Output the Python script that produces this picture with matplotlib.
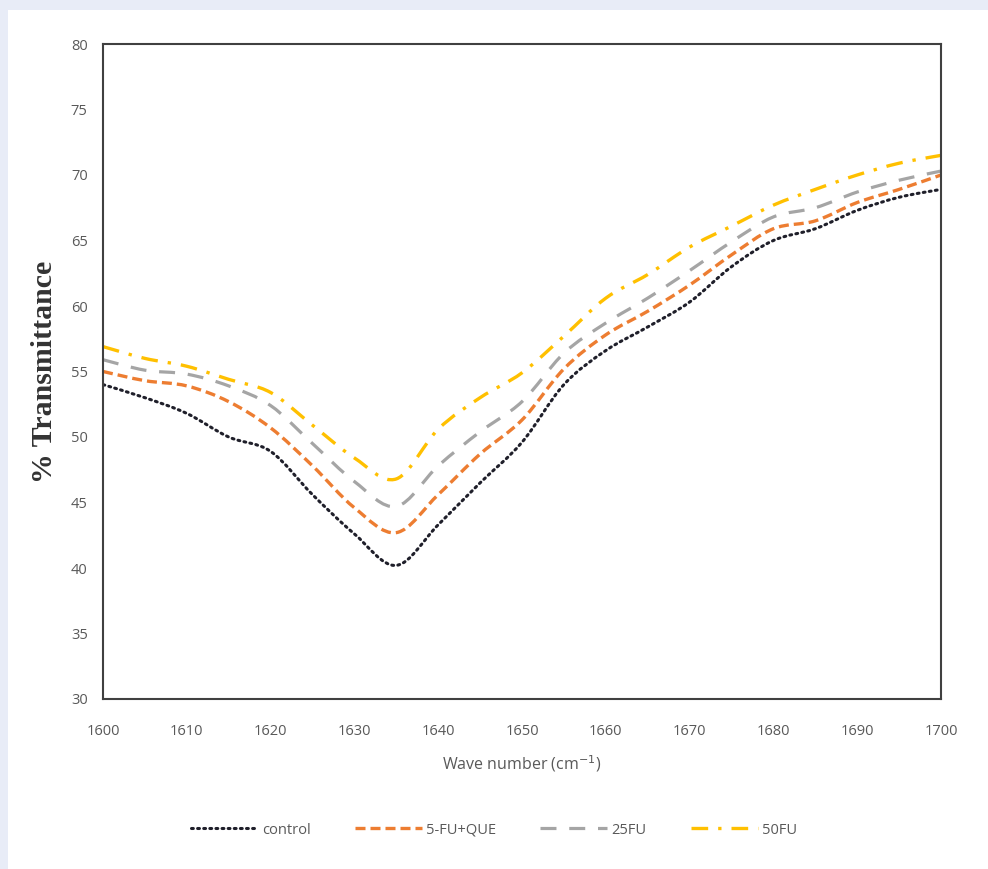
import matplotlib
matplotlib.use('Agg')
import matplotlib.pyplot as plt
import numpy as np
from matplotlib.patches import Rectangle, PathPatch
from matplotlib.path import Path
from matplotlib.lines import Line2D

# Données (pas de 5 cm-1)
wave = [1600, 1605, 1610, 1615, 1620, 1625, 1630, 1635, 1640, 1645, 1650,
        1655, 1660, 1665, 1670, 1675, 1680, 1685, 1690, 1695, 1700]
control = [54.0, 53.0, 51.8, 50.0, 48.9, 45.6, 42.6, 40.2, 43.3, 46.5, 49.6,
           54.0, 56.6, 58.4, 60.3, 63.0, 65.0, 65.9, 67.3, 68.3, 68.9]
fu_que = [55.0, 54.3, 53.9, 52.7, 50.7, 47.8, 44.6, 42.7, 45.6, 48.7, 51.3,
          55.2, 57.8, 59.6, 61.6, 63.9, 65.9, 66.5, 67.9, 68.9, 70.0]
fu25 = [55.9, 55.1, 54.8, 53.9, 52.4, 49.5, 46.6, 44.7, 47.8, 50.4, 52.7,
        56.4, 58.7, 60.6, 62.7, 64.9, 66.8, 67.5, 68.7, 69.6, 70.3]
fu50 = [56.9, 56.0, 55.4, 54.4, 53.4, 50.9, 48.4, 46.8, 50.6, 53.0, 54.9,
        57.7, 60.6, 62.4, 64.5, 66.1, 67.7, 68.9, 70.0, 70.9, 71.5]

labels = ['control', '5-FU+QUE', '25FU', '50FU']
colors = ['#1f1f2a', '#ED7D31', '#A5A5A5', '#FFC000']
styles = [(0, (0.6, 1.4)), (0, (3, 1.5)), (0, (5, 4)), (0, (5, 3, 1, 3))]
widths = [2.2, 2.4, 2.3, 2.4]


def smooth_path(x, y):
    # courbe lissée façon Excel : segments de Bézier passant par les points
    p = np.column_stack([x, y]).astype(float)
    pad = np.vstack([p[0], p, p[-1]])
    verts, codes = [p[0]], [Path.MOVETO]
    for i in range(len(p) - 1):
        c1 = p[i] + (pad[i + 2] - pad[i]) / 6
        c2 = p[i + 1] - (pad[i + 3] - pad[i + 1]) / 6
        verts += [c1, c2, p[i + 1]]
        codes += [Path.CURVE4] * 3
    return Path(verts, codes)


fig = plt.figure(figsize=(9.88, 8.69), dpi=100, facecolor='#e8ecf7')
fig.add_artist(Rectangle((8 / 988, 0), 1, 859 / 869, transform=fig.transFigure,
                         facecolor='white', edgecolor='none', zorder=-10))

ax = fig.add_axes([103 / 988, 170 / 869, 838 / 988, 655 / 869])
handles = []
for ys, c, ls, lw, lab in zip([control, fu_que, fu25, fu50], colors, styles, widths, labels):
    cap = 'round' if lab == 'control' else 'butt'
    ax.add_patch(PathPatch(smooth_path(wave, ys), fill=False, edgecolor=c,
                           linestyle=ls, lw=lw, capstyle=cap))
    handles.append(Line2D([], [], color=c, linestyle=ls, lw=lw, label=lab,
                          dash_capstyle=cap))

ax.set_xlim(1600, 1700)
ax.set_ylim(30, 80)
ax.set_xticks(range(1600, 1701, 10))
ax.set_yticks(range(30, 81, 5))
ax.tick_params(length=0, labelsize=10.5, labelcolor='#595959')
ax.tick_params(axis='x', pad=18)
ax.tick_params(axis='y', pad=11)
for lab in ax.get_xticklabels() + ax.get_yticklabels():
    lab.set_family('Open Sans')
for sp in ax.spines.values():
    sp.set_color('#404040')
    sp.set_linewidth(1.5)

ax.set_xlabel('Wave number (cm$^{-1}$)', fontsize=11.5, color='#595959',
              family='Open Sans', labelpad=10)
ax.set_ylabel('% Transmittance', fontsize=21.5, fontweight='bold', color='#333333',
              family='Liberation Serif', labelpad=9)

fig.legend(handles=handles, loc='center', bbox_to_anchor=(0.5, 39 / 869), ncol=4,
           frameon=False, handlelength=4.6, columnspacing=3.0, handletextpad=0.3,
           prop={'family': 'Open Sans', 'size': 10.5}, labelcolor='#595959')

fig.savefig('out.png', dpi=100, facecolor=fig.get_facecolor())
